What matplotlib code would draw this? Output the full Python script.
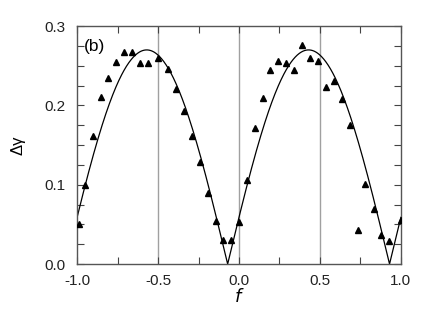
import matplotlib
matplotlib.use('Agg')
import matplotlib.pyplot as plt
import numpy as np
from matplotlib.ticker import MultipleLocator, FormatStrFormatter

plt.rcParams['font.family'] = ['Liberation Sans', 'DejaVu Sans']

# measured points
f_data = [-0.99, -0.95, -0.903, -0.854, -0.807, -0.757, -0.708, -0.659, -0.609, -0.562,
          -0.50, -0.44, -0.389, -0.341, -0.292, -0.241, -0.191, -0.144, -0.099, -0.049,
          0.0, 0.049, 0.097, 0.146, 0.193, 0.243, 0.292, 0.341, 0.391, 0.44,
          0.488, 0.537, 0.586, 0.636, 0.685, 0.733, 0.78, 0.831, 0.877, 0.926, 0.998]
dg_data = [0.050, 0.100, 0.162, 0.211, 0.234, 0.255, 0.268, 0.267, 0.253, 0.253,
           0.260, 0.246, 0.221, 0.193, 0.161, 0.129, 0.090, 0.054, 0.030, 0.030,
           0.053, 0.106, 0.171, 0.209, 0.245, 0.256, 0.254, 0.245, 0.276, 0.260,
           0.256, 0.223, 0.231, 0.208, 0.175, 0.043, 0.101, 0.070, 0.037, 0.029, 0.056]

# fitted curve parameters
amp = 0.27
f_zero = -0.07
ref_lines = [-0.5, 0.0, 0.5]

fig = plt.figure(figsize=(4.26, 3.11), dpi=100)
ax = fig.add_axes([0.181, 0.151, 0.760, 0.765])

for xv in ref_lines:
    ax.axvline(xv, color='#a0a0a0', lw=1.0, zorder=1)

ff = np.linspace(-1, 1, 801)
ax.plot(ff, amp * np.abs(np.sin(np.pi * (ff - f_zero))), color='black', lw=0.9, zorder=2)
ax.plot(f_data, dg_data, '^', color='black', ms=4.8, zorder=3)

ax.set_xlim(-1, 1)
ax.set_ylim(0, 0.3)
ax.xaxis.set_major_locator(MultipleLocator(0.5))
ax.xaxis.set_minor_locator(MultipleLocator(0.25))
ax.yaxis.set_major_locator(MultipleLocator(0.1))
ax.yaxis.set_minor_locator(MultipleLocator(0.025))
ax.xaxis.set_major_formatter(FormatStrFormatter('%.1f'))
ax.yaxis.set_major_formatter(FormatStrFormatter('%.1f'))
ax.tick_params(which='both', direction='in', top=True, right=True, colors='#444444',
               labelcolor='#222222', labelsize=11)
ax.tick_params(axis='x', which='major', pad=7)
ax.tick_params(axis='y', which='major', pad=8)
ax.tick_params(which='both', length=5, width=0.8)
for s in ax.spines.values():
    s.set_color('#555555')
    s.set_linewidth(1.0)

ax.set_xlabel('$f$', fontsize=13, labelpad=0)
ax.set_ylabel('Δγ', fontsize=12, labelpad=14)
ax.text(0.022, 0.895, '(b)', transform=ax.transAxes, fontsize=12.5)

fig.savefig('out.png', dpi=100)
